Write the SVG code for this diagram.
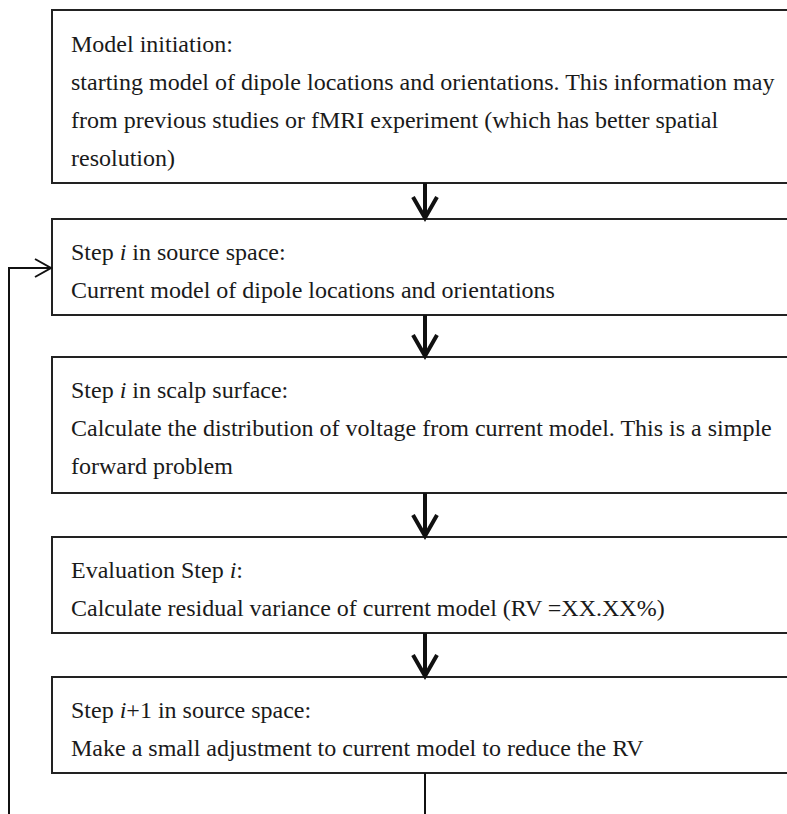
<svg xmlns="http://www.w3.org/2000/svg" width="787" height="814" viewBox="0 0 787 814">
<style>
.box{fill:#fff;stroke:#222;stroke-width:2}
.t{font-family:"Liberation Serif","Times New Roman",serif;font-size:24px;fill:#1a1a1a}
.it{font-style:italic}
.thick{fill:none;stroke:#111;stroke-width:4;stroke-linejoin:miter}
.thin{fill:none;stroke:#111;stroke-width:2}
</style>
<rect width="787" height="814" fill="#fff"/>
<g id="n1">
<rect class="box" x="52" y="10" width="760" height="173"/>
<text class="t" x="71" y="52">Model initiation:</text>
<text class="t" x="71" y="90">starting model of dipole locations and orientations. This information may</text>
<text class="t" x="71" y="128">from previous studies or fMRI experiment (which has better spatial</text>
<text class="t" x="71" y="166">resolution)</text>
</g>
<g id="n2">
<rect class="box" x="52" y="219" width="760" height="96"/>
<text class="t" x="71" y="260">Step <tspan class="it">i</tspan> in source space:</text>
<text class="t" x="71" y="298">Current model of dipole locations and orientations</text>
</g>
<g id="n3">
<rect class="box" x="52" y="357" width="760" height="136"/>
<text class="t" x="71" y="398">Step <tspan class="it">i</tspan> in scalp surface:</text>
<text class="t" x="71" y="436">Calculate the distribution of voltage from current model. This is a simple</text>
<text class="t" x="71" y="474">forward problem</text>
</g>
<g id="n4">
<rect class="box" x="52" y="537" width="760" height="96"/>
<text class="t" x="71" y="578">Evaluation Step <tspan class="it">i</tspan>:</text>
<text class="t" x="71" y="616">Calculate residual variance of current model (RV =XX.XX%)</text>
</g>
<g id="n5">
<rect class="box" x="52" y="677" width="760" height="96"/>
<text class="t" x="71" y="718">Step <tspan class="it">i</tspan>+1 in source space:</text>
<text class="t" x="71" y="756">Make a small adjustment to current model to reduce the RV</text>
</g>
<g id="connectors">
<path class="thick" d="M425,183 V217 M413,197 L425,218 L437,197"/>
<path class="thick" d="M425,315 V355 M413,335 L425,356 L437,335"/>
<path class="thick" d="M425,493 V535 M413,515 L425,536 L437,515"/>
<path class="thick" d="M425,633 V675 M413,655 L425,676 L437,655"/>
<path class="thin" d="M425,773 V816 M9,816 V268 H51"/>
<path class="thin" d="M35,259 L51,268 L35,277"/>
</g>
</svg>
